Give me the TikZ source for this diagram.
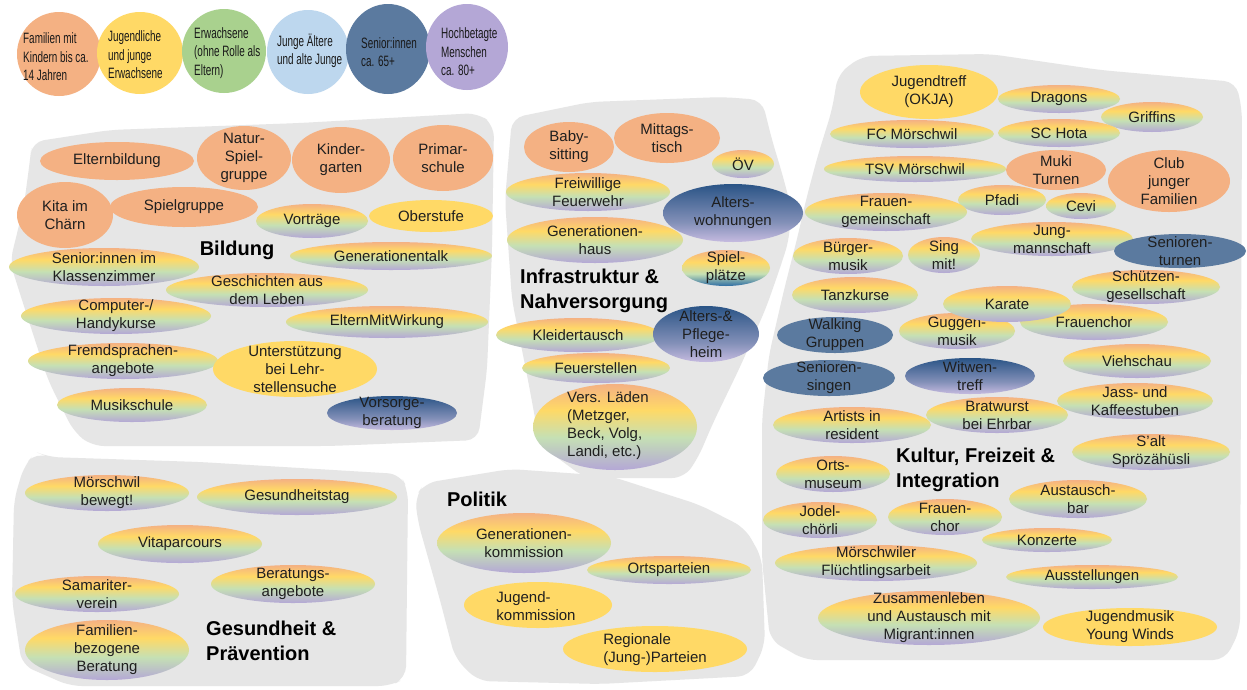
\documentclass[tikz,border=0pt]{standalone}
\usepackage{fontspec}
\setmainfont{Liberation Sans}
\newfontfamily\legfont[FakeStretch=0.66]{Liberation Sans}
\usetikzlibrary{shapes.geometric}
\definecolor{cOrange}{HTML}{F4B183}
\definecolor{cYellow}{HTML}{FFD966}
\definecolor{cGreen}{HTML}{A9D18E}
\definecolor{cGreenL}{HTML}{C5E0B4}
\definecolor{cLBlue}{HTML}{BDD7EE}
\definecolor{cBlue}{HTML}{5B7A9F}
\definecolor{cPurple}{HTML}{B4A7D6}
\definecolor{cLav}{HTML}{C6BBE0}
\definecolor{cNavy}{HTML}{2A5486}
\definecolor{cMidB}{HTML}{8390B8}
\definecolor{cDeepB}{HTML}{2E6DA4}
\definecolor{cBlob}{HTML}{E6E6E6}
\pgfdeclareverticalshading{rainbow}{100bp}{color(0bp)=(cPurple); color(25bp)=(cPurple); color(44bp)=(cGreenL); color(60bp)=(cYellow); color(75bp)=(cOrange); color(100bp)=(cOrange)}
\pgfdeclareverticalshading{blueshade}{100bp}{color(0bp)=(cLav); color(25bp)=(cLav); color(42bp)=(cMidB); color(75bp)=(cNavy); color(100bp)=(cNavy)}
\pgfdeclareverticalshading{rainbowblue}{100bp}{color(0bp)=(cDeepB); color(25bp)=(cDeepB); color(42bp)=(cGreenL); color(58bp)=(cYellow); color(75bp)=(cOrange); color(100bp)=(cOrange)}
\newcommand\ov[7]{\path[#2] (#3,#4) ellipse [x radius=#5pt, y radius=#6pt]; \node[txt] (#1) at (#3,#4) {#7};}
\begin{document}
\begin{tikzpicture}[x=1pt,y=-1pt,
  txt/.style={inner sep=0pt, align=center, text=black!88, font=\fontsize{15}{18}\selectfont},
  lab/.style={inner sep=0pt, align=left, anchor=west, text=black, font=\fontsize{20}{25}\selectfont\bfseries},
  leg/.style={inner sep=0pt, align=left, anchor=west, text=black!90, font=\fontsize{15}{18.5}\selectfont\legfont},
  blob/.style={fill=cBlob, rounded corners=12pt},
  rb/.style={shade, shading=rainbow},
  bs/.style={shade, shading=blueshade},
  rbb/.style={shade, shading=rainbowblue},
  fo/.style={fill=cOrange},
  fy/.style={fill=cYellow},
  fb/.style={fill=cBlue}]
\useasboundingbox[fill=white] (0,0) rectangle (1247,689);

% legend
\path[fill=cOrange] (59,54) ellipse [x radius=42pt, y radius=42pt];
\path[fill=cYellow] (140,53) ellipse [x radius=43pt, y radius=41pt];
\path[fill=cGreen] (224,51) ellipse [x radius=42pt, y radius=42pt];
\path[fill=cLBlue] (308,52) ellipse [x radius=41pt, y radius=42pt];
\path[fill=cBlue] (388,49) ellipse [x radius=42pt, y radius=45pt];
\path[fill=cPurple] (467,47) ellipse [x radius=41pt, y radius=43pt];
\node[leg] (leg1) at (23,57) {Familien mit\\Kindern bis ca.\\14 Jahren};
\node[leg] (leg2) at (108,55) {Jugendliche\\und junge\\Erwachsene};
\node[leg] (leg3) at (194,53) {Erwachsene\\(ohne Rolle als\\Eltern)};
\node[leg] (leg4) at (277,51) {Junge Ältere\\und alte Junge};
\node[leg] (leg5) at (361,52) {Senior:innen\\ca. 65+};
\node[leg] (leg6) at (441,52) {Hochbetagte\\Menschen\\ca. 80+};

% blobs
\path[blob] (32,142) -- (110,130) -- (300,123) -- (478,113) -- (494,125) -- (492,250) -- (487,370) -- (478,440) -- (330,446) -- (92,446) -- (74,432) -- (48,380) -- (22,300) -- (10,262) -- (24,205) -- (30,160) -- cycle;
\path[blob] (512,118) -- (590,102) -- (723,97) -- (762,100) -- (772,140) -- (782,173) -- (791,207) -- (789,240) -- (780,268) -- (766,308) -- (740,367) -- (713,423) -- (698,458) -- (684,478) -- (585,478) -- (540,445) -- (528,380) -- (512,300) -- (505,200) -- cycle;
\path[blob] (838,74) -- (862,56) -- (990,54) -- (1100,70) -- (1236,82) -- (1242,110) -- (1240,630) -- (1225,660) -- (805,660) -- (770,640) -- (762,560) -- (762,420) -- (769,355) -- (784,290) -- (798,235) -- (806,200) -- (818,155) -- (832,110) -- cycle;
\path[blob] (36,452) -- (48,457) -- (200,462) -- (400,474) -- (408,490) -- (406,678) -- (390,686) -- (70,686) -- (22,665) -- (12,600) -- (14,500) -- (24,466) -- cycle;
\path[blob] (415,497) -- (425,483) -- (510,469) -- (610,476) -- (700,505) -- (745,528) -- (762,558) -- (765,645) -- (750,676) -- (600,684) -- (478,681) -- (455,658) -- (440,600) -- (418,522) -- cycle;

% Bildung
\ov{elternbildung}{fo}{117}{161}{77}{19}{Elternbildung}
\ov{natur}{fo}{244}{158}{47}{32}{Natur-\\Spiel-\\gruppe}
\ov{kindergarten}{fo}{341}{160}{49}{33}{Kinder-\\garten}
\ov{primar}{fo}{443}{158}{50}{33}{Primar-\\schule}
\ov{kita}{fo}{65}{215}{48}{33}{Kita im\\Chärn}
\ov{spielgruppe}{fo}{184}{207}{74}{20}{Spielgruppe}
\ov{vortraege}{rb}{312}{221}{56}{17}{Vorträge}
\ov{oberstufe}{fy}{431}{216}{62}{16}{Oberstufe}
\ov{seniorkz}{rb}{104}{267}{95}{19}{Senior:innen im\\Klassenzimmer}
\ov{gentalk}{rb}{391}{256}{101}{14}{Generationentalk}
\ov{geschichten}{rb}{267}{290}{101}{17}{Geschichten aus\\dem Leben}
\ov{computer}{rb}{116}{316}{95}{18}{Computer-/\\Handykurse}
\ov{emw}{rb}{387}{322}{101}{16}{ElternMitWirkung}
\ov{fremd}{rb}{123}{361}{95}{18}{Fremdsprachen-\\angebote}
\ov{lehrstelle}{fy}{295}{369}{82}{28}{Unterstützung\\bei Lehr-\\stellensuche}
\ov{musikschule}{rb}{132}{405}{75}{17}{Musikschule}
\ov{vorsorge}{bs}{392}{413}{65}{17}{Vorsorge-\\beratung}
\node[lab, anchor=center] (bildung) at (237,250) {Bildung};

% Infrastruktur
\ov{baby}{fo}{569}{147}{45}{25}{Baby-\\sitting}
\ov{mittag}{fo}{667}{138}{53}{25}{Mittags-\\tisch}
\ov{oev}{rb}{743}{164}{31}{14}{ÖV}
\ov{feuerwehr}{rb}{588}{192}{82}{19}{Freiwillige\\Feuerwehr}
\ov{alterswohn}{bs}{733}{213}{70}{29}{Alters-\\wohnungen}
\ov{genhaus}{rb}{595}{240}{88}{23}{Generationen-\\haus}
\ov{spielplatz}{rbb}{726}{268}{44}{18}{Spiel-\\plätze}
\ov{kleider}{rb}{578}{335}{82}{17}{Kleidertausch}
\ov{pflegeheim}{bs}{706}{334}{53}{28}{Alters-\&\\Pflege-\\heim}
\ov{feuerstellen}{rb}{596}{368}{74}{15}{Feuerstellen}
\path[rb] (615,427) ellipse [x radius=82pt, y radius=43pt];
\node[txt, align=left, anchor=west] (laeden) at (567,426) {Vers. Läden\\(Metzger,\\Beck, Volg,\\Landi, etc.)};
\node[lab] (infra) at (520,291) {Infrastruktur \&\\Nahversorgung};

% Kultur
\ov{jugendtreff}{fy}{929}{92}{69}{27}{Jugendtreff\\(OKJA)}
\ov{dragons}{rb}{1059}{99}{61}{14}{Dragons}
\ov{griffins}{rb}{1152}{117}{51}{15}{Griffins}
\ov{fc}{rb}{912}{134}{82}{14}{FC Mörschwil}
\ov{schota}{rb}{1059}{133}{61}{14}{SC Hota}
\ov{tsv}{rb}{915}{169}{91}{13}{TSV Mörschwil}
\ov{muki}{fo}{1056}{170}{50}{20}{Muki\\Turnen}
\ov{club}{fo}{1169}{181}{61}{31}{Club\\junger\\Familien}
\ov{pfadi}{rb}{1002}{200}{44}{15}{Pfadi}
\ov{cevi}{rb}{1081}{206}{35}{13}{Cevi}
\ov{frauengem}{rb}{886}{212}{81}{19}{Frauen-\\gemeinschaft}
\ov{jungmann}{rb}{1052}{239}{81}{17}{Jung-\\mannschaft}
\ov{seniorenturnen}{fb}{1180}{251}{66}{17}{Senioren-\\turnen}
\ov{buergermusik}{rb}{848}{256}{55}{18}{Bürger-\\musik}
\ov{singmit}{rb}{944}{255}{36}{18}{Sing\\mit!}
\ov{schuetzen}{rb}{1146}{287}{74}{17}{Schützen-\\gesellschaft}
\ov{tanzkurse}{rb}{855}{295}{63}{18}{Tanzkurse}
\ov{frauenchorA}{rb}{1094}{322}{74}{18}{Frauenchor}
\ov{guggen}{rb}{957}{331}{58}{18}{Guggen-\\musik}
\ov{karate}{rb}{1007}{304}{64}{18}{Karate}
\ov{walking}{fb}{835}{335}{58}{18}{Walking\\Gruppen}
\ov{viehschau}{rb}{1137}{361}{74}{17}{Viehschau}
\ov{seniorensingen}{fb}{829}{378}{66}{18}{Senioren-\\singen}
\ov{witwen}{bs}{970}{376}{65}{18}{Witwen-\\treff}
\ov{jass}{rb}{1135}{401}{78}{18}{Jass- und\\Kaffeestuben}
\ov{bratwurst}{rb}{997}{415}{71}{18}{Bratwurst\\bei Ehrbar}
\ov{artists}{rb}{852}{425}{79}{18}{Artists in\\resident}
\ov{salt}{rb}{1151}{452}{79}{18}{S’alt\\Sprözähüsli}
\ov{ortsmuseum}{rb}{833}{474}{57}{18}{Orts-\\museum}
\ov{austauschbar}{rb}{1078}{499}{69}{19}{Austausch-\\bar}
\ov{jodel}{rb}{820}{520}{57}{18}{Jodel-\\chörli}
\ov{frauenchorB}{rb}{945}{517}{57}{18}{Frauen-\\chor}
\ov{konzerte}{rb}{1047}{540}{65}{12}{Konzerte}
\ov{fluechtling}{rb}{876}{563}{101}{18}{Mörschwiler\\Flüchtlingsarbeit}
\ov{ausstellungen}{rb}{1092}{577}{86}{12}{Ausstellungen}
\ov{zusammen}{rb}{929}{618}{111}{27}{Zusammenleben\\und Austausch mit\\Migrant:innen}
\ov{jugendmusik}{fy}{1130}{627}{87}{19}{Jugendmusik\\Young Winds}
\node[lab] (kultur) at (896,470) {Kultur, Freizeit \&\\Integration};

% Gesundheit
\ov{bewegt}{rb}{107}{493}{82}{18}{Mörschwil\\bewegt!}
\ov{gtag}{rb}{297}{497}{100}{18}{Gesundheitstag}
\ov{vita}{rb}{180}{544}{82}{19}{Vitaparcours}
\ov{samariter}{rb}{97}{594}{82}{18}{Samariter-\\verein}
\ov{beratung}{rb}{293}{584}{82}{19}{Beratungs-\\angebote}
\ov{famberatung}{rb}{107}{650}{82}{30}{Familien-\\bezogene\\Beratung}
\node[lab] (gesundheit) at (206,641) {Gesundheit \&\\Prävention};

% Politik
\ov{genkomm}{rb}{524}{543}{87}{30}{Generationen-\\kommission}
\ov{ortsparteien}{rb}{669}{570}{82}{14}{Ortsparteien}
\path[fy] (538,605) ellipse [x radius=74pt, y radius=23pt];
\node[txt, align=left] (jugendkomm) at (536,606) {Jugend-\\kommission};
\path[fy] (655,649) ellipse [x radius=92pt, y radius=23pt];
\node[txt, align=left] (regionale) at (655,650) {Regionale\\(Jung-)Parteien};
\node[lab, anchor=center] (politik) at (477,499) {Politik};
\end{tikzpicture}
\end{document}
